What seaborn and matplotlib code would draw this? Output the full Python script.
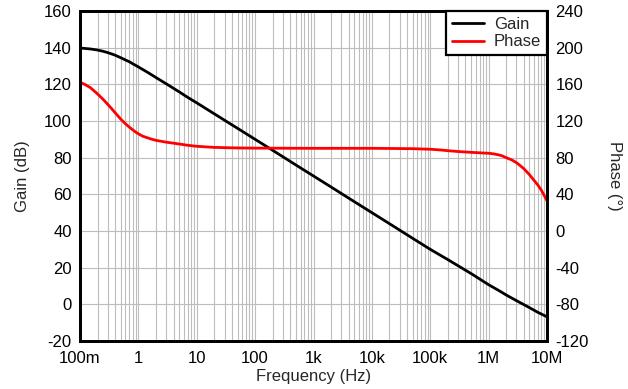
import numpy as np
import pandas as pd
import matplotlib
matplotlib.use("Agg")
import matplotlib.pyplot as plt
import matplotlib.ticker as mticker
import seaborn as sns

# Open-loop gain (dB) versus frequency (Hz)
gain_freq = [0.1, 0.15, 0.2, 0.25, 0.3, 0.4, 0.5, 0.7, 1, 1.5, 2, 3, 5, 7, 10,
             20, 50, 100, 200, 500, 1e3, 2e3, 5e3, 1e4, 2e4, 5e4, 1e5, 2e5,
             5e5, 1e6, 1.5e6, 2e6, 3e6, 5e6, 7e6, 1e7]
gain_db = [139.8, 139.3, 138.7, 138.0, 137.3, 135.9, 134.5, 132.3, 129.5, 126.2,
           123.7, 120.3, 115.9, 112.9, 109.9, 103.9, 96.0, 90.0, 84.0, 76.0,
           70.0, 64.0, 56.0, 50.0, 44.0, 36.0, 30.0, 24.4, 16.8, 10.7, 7.5,
           5.1, 2.0, -1.8, -4.4, -6.8]

# Phase (degrees) versus frequency (Hz)
phase_freq = [0.1, 0.12, 0.15, 0.2, 0.25, 0.3, 0.35, 0.4, 0.5, 0.6, 0.7, 0.86,
              1, 1.2, 1.66, 2, 3, 4.2, 5, 7, 10, 20, 50, 100, 1e3, 1e4, 5e4,
              1e5, 1.5e5, 2e5, 3e5, 5e5, 7e5, 1e6, 1.2e6, 1.5e6, 1.7e6, 2e6,
              2.5e6, 3e6, 3.5e6, 4e6, 5e6, 6e6, 7e6, 8e6, 9e6, 1e7]
phase_deg = [162.2, 160.0, 156.5, 149.5, 143.5, 138.0, 133.3, 129.0, 122.0,
             117.0, 113.3, 108.8, 106.0, 103.3, 100.3, 98.9, 96.9, 95.6, 94.9,
             93.5, 92.4, 91.2, 90.6, 90.4, 90.2, 90.2, 89.8, 89.2, 88.4, 87.6,
             86.7, 85.8, 85.3, 84.8, 84.2, 83.0, 82.0, 80.0, 77.5, 74.5, 71.2,
             68.0, 61.5, 55.2, 50.0, 44.5, 38.5, 33.0]

x_ticks = [0.1, 1, 10, 100, 1e3, 1e4, 1e5, 1e6, 1e7]
x_tick_labels = ["100m", "1", "10", "100", "1k", "10k", "100k", "1M", "10M"]
gain_ticks = list(range(-20, 161, 20))
phase_ticks = list(range(-120, 241, 40))

gain_df = pd.DataFrame({"Frequency": gain_freq, "Gain": gain_db})
phase_df = pd.DataFrame({"Frequency": phase_freq, "Phase": phase_deg})

sns.set_theme(style="white")
plt.rcParams["font.family"] = ["Liberation Sans", "DejaVu Sans"]
plt.rcParams["axes.unicode_minus"] = False
fs = 12

fig = plt.figure(figsize=(6.28, 3.89), dpi=100)
ax = fig.add_axes([80 / 628, 1 - 341 / 389, 467 / 628, 330 / 389])
ax2 = ax.twinx()

sns.lineplot(data=gain_df, x="Frequency", y="Gain", ax=ax, color="black",
             linewidth=2.0, label="Gain", legend=False)
sns.lineplot(data=phase_df, x="Frequency", y="Phase", ax=ax2, color="#ff0000",
             linewidth=2.0, label="Phase", legend=False)

ax.set_xscale("log")
ax.set_xlim(0.1, 1e7)
ax.set_ylim(-20, 160)
ax2.set_ylim(-120, 240)

ax.set_xticks(x_ticks)
ax.set_xticklabels(x_tick_labels)
ax.xaxis.set_minor_locator(mticker.LogLocator(base=10, subs=np.arange(2, 10), numticks=100))
ax.xaxis.set_minor_formatter(mticker.NullFormatter())
ax.set_yticks(gain_ticks)
ax2.set_yticks(phase_ticks)

grid_color = "#bdbdbd"
ax.grid(True, which="major", axis="both", color=grid_color, linewidth=0.8)
ax.grid(True, which="minor", axis="x", color=grid_color, linewidth=0.8)
ax.set_axisbelow(True)

for a in (ax, ax2):
    a.tick_params(axis="both", which="both", length=0, labelsize=fs,
                  colors="black")
ax.tick_params(axis="y", pad=6)
ax.tick_params(axis="x", pad=7)
ax2.tick_params(axis="y", pad=6)

for a in (ax, ax2):
    for s in a.spines.values():
        s.set_color("black")
        s.set_linewidth(2.0)

ax.set_xlabel("Frequency (Hz)", fontsize=fs, labelpad=2)
ax.set_ylabel("Gain (dB)", fontsize=fs, labelpad=10)
ax2.set_ylabel("Phase (°)", fontsize=fs, rotation=270, labelpad=24)

handles = ax.get_lines()[:1] + ax2.get_lines()[:1]
leg = ax2.legend(handles, ["Gain", "Phase"], loc="upper right",
                 borderaxespad=0, fancybox=False, framealpha=1,
                 edgecolor="black", fontsize=fs, handlelength=1.9,
                 handletextpad=0.6, borderpad=0.35, labelspacing=0.15)
leg.get_frame().set_linewidth(1.6)

fig.savefig("out.png", dpi=100)
